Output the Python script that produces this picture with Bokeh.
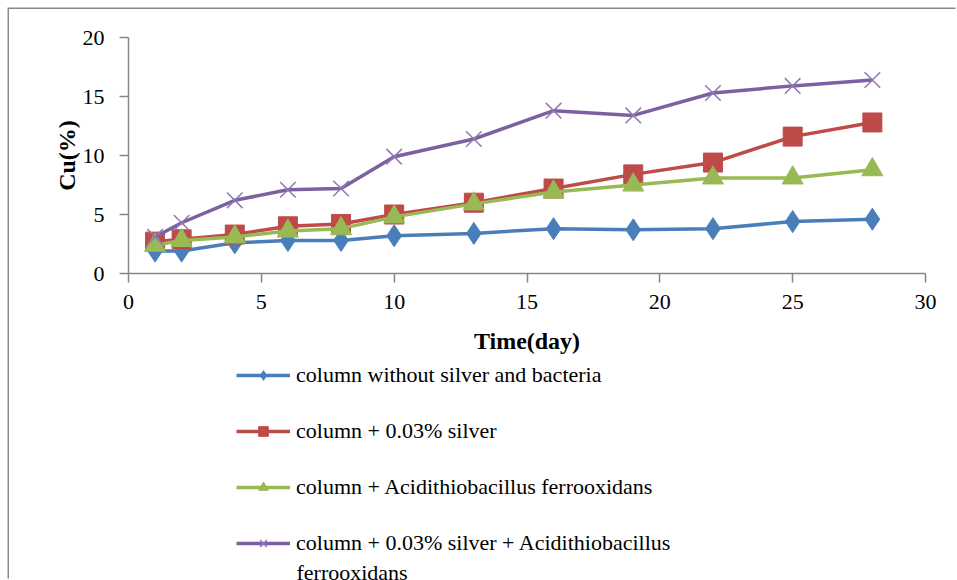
from bokeh.plotting import figure
from bokeh.models import Range1d, FixedTicker, Legend, LegendItem, Label
from bokeh.layouts import column
from bokeh.embed import file_html
from bokeh.resources import INLINE

# ---- data ----
days = [1, 2, 4, 6, 8, 10, 13, 16, 19, 22, 25, 28]
no_silver_no_bacteria = [1.9, 1.9, 2.6, 2.8, 2.8, 3.2, 3.4, 3.8, 3.7, 3.8, 4.4, 4.6]
silver_003 = [2.7, 2.9, 3.3, 4.0, 4.2, 5.0, 6.0, 7.2, 8.4, 9.4, 11.6, 12.8]
acidithiobacillus = [2.4, 2.8, 3.1, 3.6, 3.8, 4.8, 5.9, 6.9, 7.5, 8.1, 8.1, 8.8]
silver_plus_bacteria = [3.1, 4.3, 6.2, 7.1, 7.2, 9.9, 11.4, 13.8, 13.4, 15.3, 15.9, 16.4]

series_labels = [
    "column without silver and bacteria",
    "column + 0.03% silver",
    "column + Acidithiobacillus ferrooxidans",
    "column + 0.03% silver + Acidithiobacillus",
]
label_wrap = "ferrooxidans"   # wrapped second line of the last legend entry
x_ticks = [0, 5, 10, 15, 20, 25, 30]
y_ticks = [0, 5, 10, 15, 20]
x_title = "Time(day)"
y_title = "Cu(%)"

FONT = "Liberation Serif"
colors = ["#4A7EBB", "#BE4B48", "#98B954", "#7D60A0"]
values = [no_silver_no_bacteria, silver_003, acidithiobacillus, silver_plus_bacteria]
markers = ["diamond", "square", "triangle", "x"]
sizes = [22, 19, 21, 22]


def draw_series(fig):
    out = []
    for vals, col, mk, sz in zip(values, colors, markers, sizes):
        r1 = fig.line(days, vals, line_color=col, line_width=3.5)
        if mk == "x":
            r2 = fig.scatter(days, vals, marker=mk, size=sz, line_color="#8E78B5", line_width=1.5)
        else:
            r2 = fig.scatter(days, vals, marker=mk, size=sz,
                             fill_color=col, line_color=col, line_width=1)
        out.append([r1, r2])
    return out


# ---- main chart ----
p = figure(width=948, height=356, output_backend="svg", toolbar_location=None,
           x_range=Range1d(0, 30), y_range=Range1d(0, 20),
           min_border_left=119, min_border_right=32, min_border_top=28, min_border_bottom=92)
p.outline_line_color = None
p.grid.visible = False
p.border_fill_color = "white"

for ax in (p.xaxis[0], p.yaxis[0]):
    ax.axis_line_color = "#868686"
    ax.axis_line_width = 1.5
    ax.major_tick_line_color = "#868686"
    ax.major_tick_line_width = 1.5
    ax.major_tick_in = 0
    ax.major_tick_out = 9
    ax.minor_tick_line_color = None
    ax.major_label_text_font = FONT
    ax.major_label_text_font_size = "22px"
    ax.major_label_text_color = "black"
    ax.axis_label_text_font = FONT
    ax.axis_label_text_font_size = "24px"
    ax.axis_label_text_font_style = "bold"
    ax.axis_label_text_color = "black"

p.xaxis.ticker = FixedTicker(ticks=x_ticks)
p.yaxis.ticker = FixedTicker(ticks=y_ticks)
p.xaxis.axis_label = x_title
p.yaxis.axis_label = y_title
p.xaxis.major_label_standoff = 12
p.yaxis.major_label_standoff = 15
p.xaxis.axis_label_standoff = 16
p.yaxis.axis_label_standoff = 0

draw_series(p)

# ---- legend panel (series kept out of its view; only the legend shows) ----
lg = figure(width=948, height=215, output_backend="svg", toolbar_location=None,
            x_axis_type=None, y_axis_type=None,
            x_range=Range1d(-20, -10), y_range=Range1d(0, 20),
            min_border_left=119, min_border_right=32, min_border_top=0, min_border_bottom=0)
lg.outline_line_color = None
lg.grid.visible = False
lg.border_fill_color = "white"
pairs = draw_series(lg)

items = [LegendItem(label=lab, renderers=rs) for lab, rs in zip(series_labels, pairs)]
legend = Legend(items=items, location=(108, 24), orientation="vertical",
                padding=0, margin=0, spacing=30,
                glyph_height=24, glyph_width=54, label_height=24, label_standoff=6,
                label_text_font=FONT, label_text_font_size="22px", label_text_color="black",
                border_line_color=None, background_fill_alpha=0)
lg.add_layout(legend, "center")
lg.add_layout(Label(x=168, y=8, x_units="screen", y_units="screen", text=label_wrap,
                    text_font=FONT, text_font_size="22px", text_color="black",
                    text_baseline="middle", text_align="left"))

page = column(p, lg, spacing=0)
page.styles = {"margin-left": "9px", "margin-top": "9px",
               "box-shadow": "-1.5px -1.5px 0 0 #8a8a8a"}

open("out.html", "w").write(file_html(page, INLINE))
